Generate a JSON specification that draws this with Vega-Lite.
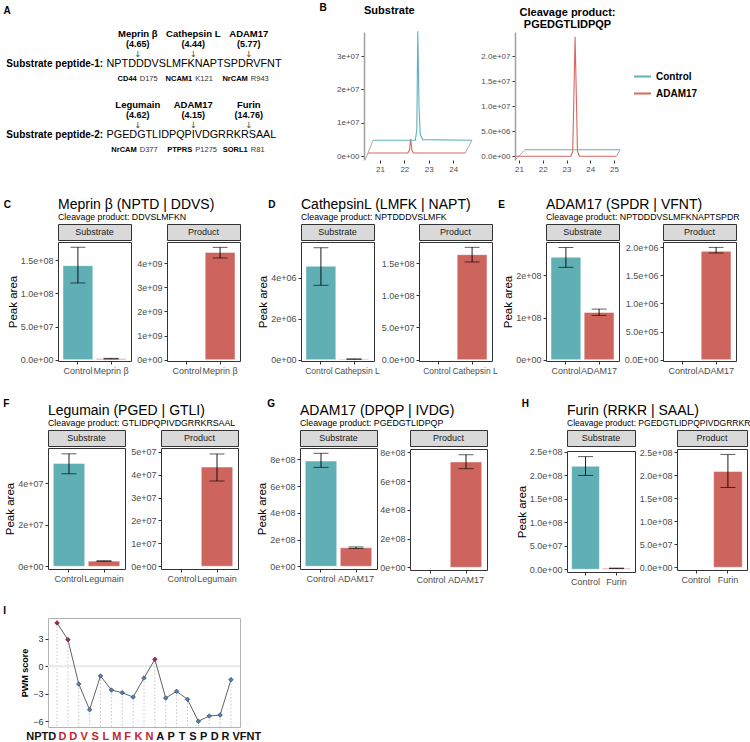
{
"$schema": "https://vega.github.io/schema/vega-lite/v6.json",
"background": "white",
"padding": {"left": 2, "top": 3, "right": 2, "bottom": 2},
"config": {
  "font": "Liberation Sans",
  "view": {"stroke": null},
  "axis": {"labelFont": "Liberation Sans", "labelFontSize": 9, "labelColor": "#4d4d4d", "tickColor": "#333333", "tickSize": 3, "labelPadding": 2, "domain": false, "grid": false, "titleFont": "Liberation Sans", "titleFontWeight": "normal", "titleColor": "black", "titleFontSize": 11.5, "titlePadding": 2, "labelOverlap": false},
  "title": {"font": "Liberation Sans", "color": "black", "subtitleFont": "Liberation Sans"},
  "text": {"font": "Liberation Sans"},
  "legend": {"labelFont": "Liberation Sans"}
},
"datasets": {
  "bars": [
    {"panel":"C","part":"Substrate","group":"Control","cond":"Control","value":1.418e8,"lo":1.157e8,"hi":1.696e8},
    {"panel":"C","part":"Substrate","group":"Meprin β","cond":"Enzyme","value":1.5e6,"lo":1.0e6,"hi":2.0e6},
    {"panel":"C","part":"Product","group":"Control","cond":"Control","value":null,"nd":"N.D."},
    {"panel":"C","part":"Product","group":"Meprin β","cond":"Enzyme","value":4.44e9,"lo":4.21e9,"hi":4.65e9},
    {"panel":"D","part":"Substrate","group":"Control","cond":"Control","value":4.56e6,"lo":3.63e6,"hi":5.46e6},
    {"panel":"D","part":"Substrate","group":"Cathepsin L","cond":"Enzyme","value":3e4,"lo":2e4,"hi":4e4},
    {"panel":"D","part":"Product","group":"Control","cond":"Control","value":null,"nd":"N.D."},
    {"panel":"D","part":"Product","group":"Cathepsin L","cond":"Enzyme","value":1.63e8,"lo":1.516e8,"hi":1.744e8},
    {"panel":"E","part":"Substrate","group":"Control","cond":"Control","value":2.43e8,"lo":2.19e8,"hi":2.66e8},
    {"panel":"E","part":"Substrate","group":"ADAM17","cond":"Enzyme","value":1.12e8,"lo":1.05e8,"hi":1.2e8},
    {"panel":"E","part":"Product","group":"Control","cond":"Control","value":null,"nd":"N.D."},
    {"panel":"E","part":"Product","group":"ADAM17","cond":"Enzyme","value":1.925e6,"lo":1.895e6,"hi":1.995e6},
    {"panel":"F","part":"Substrate","group":"Control","cond":"Control","value":4.95e7,"lo":4.45e7,"hi":5.41e7},
    {"panel":"F","part":"Substrate","group":"Legumain","cond":"Enzyme","value":2.5e6,"lo":2.3e6,"hi":2.7e6},
    {"panel":"F","part":"Product","group":"Control","cond":"Control","value":null,"nd":"N.D."},
    {"panel":"F","part":"Product","group":"Legumain","cond":"Enzyme","value":4.33e7,"lo":3.72e7,"hi":4.9e7},
    {"panel":"G","part":"Substrate","group":"Control","cond":"Control","value":7.87e8,"lo":7.4e8,"hi":8.45e8},
    {"panel":"G","part":"Substrate","group":"ADAM17","cond":"Enzyme","value":1.39e8,"lo":1.33e8,"hi":1.45e8},
    {"panel":"G","part":"Product","group":"Control","cond":"Control","value":null,"nd":"N.D."},
    {"panel":"G","part":"Product","group":"ADAM17","cond":"Enzyme","value":7.33e8,"lo":6.86e8,"hi":7.83e8},
    {"panel":"H","part":"Substrate","group":"Control","cond":"Control","value":2.195e8,"lo":2.0e8,"hi":2.4e8},
    {"panel":"H","part":"Substrate","group":"Furin","cond":"Enzyme","value":2e6,"lo":1.5e6,"hi":2.5e6},
    {"panel":"H","part":"Product","group":"Control","cond":"Control","value":null,"nd":"N.D."},
    {"panel":"H","part":"Product","group":"Furin","cond":"Enzyme","value":2.08e8,"lo":1.73e8,"hi":2.45e8}
  ],
  "pwm": [
    {"site":0,"score":4.72,"hit":true},{"site":1,"score":2.9,"hit":true},{"site":2,"score":-1.92,"hit":false},
    {"site":3,"score":-4.72,"hit":false},{"site":4,"score":-1.05,"hit":false},{"site":5,"score":-2.58,"hit":false},
    {"site":6,"score":-2.87,"hit":false},{"site":7,"score":-3.34,"hit":false},{"site":8,"score":-1.27,"hit":false},
    {"site":9,"score":0.76,"hit":true},{"site":10,"score":-3.45,"hit":false},{"site":11,"score":-2.72,"hit":false},
    {"site":12,"score":-3.59,"hit":false},{"site":13,"score":-5.98,"hit":false},{"site":14,"score":-5.4,"hit":false},
    {"site":15,"score":-5.3,"hit":false},{"site":16,"score":-1.45,"hit":false}
  ],
  "residues": [
    {"center":-1.45,"aa":"NPTD","red":false},{"center":0.5,"aa":"D","red":true},{"center":1.5,"aa":"D","red":true},
    {"center":2.5,"aa":"V","red":true},{"center":3.5,"aa":"S","red":true},{"center":4.5,"aa":"L","red":true},
    {"center":5.5,"aa":"M","red":true},{"center":6.5,"aa":"F","red":true},{"center":7.5,"aa":"K","red":true},
    {"center":8.5,"aa":"N","red":true},{"center":9.5,"aa":"A","red":false},{"center":10.5,"aa":"P","red":false},
    {"center":11.5,"aa":"T","red":false},{"center":12.5,"aa":"S","red":false},{"center":13.5,"aa":"P","red":false},
    {"center":14.5,"aa":"D","red":false},{"center":15.5,"aa":"R","red":false},{"center":17.45,"aa":"VFNT","red":false}
  ],
  "peptides": [
    {"pep":1,"name":"Substrate peptide-1:","seq":"NPTDDDVSLMFKNAPTSPDRVFNT"},
    {"pep":2,"name":"Substrate peptide-2:","seq":"PGEDGTLIDPQPIVDGRRKRSAAL"}
  ],
  "sites": [
    {"pep":1,"site":4,"enzyme":"Meprin β","score":"(4.65)","prot":"CD44","res":"D175"},
    {"pep":1,"site":12,"enzyme":"Cathepsin L","score":"(4.44)","prot":"NCAM1","res":"K121"},
    {"pep":1,"site":20,"enzyme":"ADAM17","score":"(5.77)","prot":"NrCAM","res":"R943"},
    {"pep":2,"site":4,"enzyme":"Legumain","score":"(4.62)","prot":"NrCAM","res":"D377"},
    {"pep":2,"site":12,"enzyme":"ADAM17","score":"(4.15)","prot":"PTPRS","res":"P1275"},
    {"pep":2,"site":20,"enzyme":"Furin","score":"(14.76)","prot":"SORL1","res":"R81"}
  ],
  "chromSub": [
    {"series":"ADAM17","time":20.52,"intensity":1.0e6},{"series":"ADAM17","time":22.14,"intensity":1.0e6},
    {"series":"ADAM17","time":22.21,"intensity":1.8e6},{"series":"ADAM17","time":22.26,"intensity":5.2e6},
    {"series":"ADAM17","time":22.31,"intensity":1.8e6},{"series":"ADAM17","time":22.38,"intensity":1.0e6},
    {"series":"ADAM17","time":24.49,"intensity":1.0e6},
    {"series":"Control","time":20.72,"intensity":4.8e6},{"series":"Control","time":22.45,"intensity":4.8e6},
    {"series":"Control","time":22.51,"intensity":8e6},{"series":"Control","time":22.55,"intensity":3.74e7},
    {"series":"Control","time":22.6,"intensity":1.5e7},{"series":"Control","time":22.65,"intensity":6.5e6},
    {"series":"Control","time":22.75,"intensity":5.0e6},{"series":"Control","time":24.77,"intensity":4.8e6}
  ],
  "frameSub": [
    {"seg":"L","time":20.4,"intensity":-1.0e6},{"seg":"L","time":20.72,"intensity":4.8e6},
    {"seg":"R","time":24.49,"intensity":1.0e6},{"seg":"R","time":24.77,"intensity":4.8e6}
  ],
  "chromProd": [
    {"series":"ADAM17","time":20.85,"intensity":0},{"series":"ADAM17","time":23.18,"intensity":0},
    {"series":"ADAM17","time":23.26,"intensity":1e6},{"series":"ADAM17","time":23.36,"intensity":2.39e7},
    {"series":"ADAM17","time":23.46,"intensity":1e6},{"series":"ADAM17","time":23.54,"intensity":0},
    {"series":"ADAM17","time":25.1,"intensity":0},
    {"series":"Control","time":21.25,"intensity":1.3e6},{"series":"Control","time":25.25,"intensity":1.3e6}
  ],
  "frameProd": [
    {"seg":"L","time":20.85,"intensity":-0.7e6},{"seg":"L","time":21.25,"intensity":1.3e6},
    {"seg":"R","time":25.1,"intensity":0},{"seg":"R","time":25.25,"intensity":1.3e6}
  ]
},
"spacing": 24,
"vconcat": [
{"spacing": 0, "hconcat": [
  {"width": 1, "height": 1, "data": {"values": [{"t": ""}]}, "mark": {"type": "text"}, "encoding": {"text": {"field": "t"}}},
  {"spacing": 28, "hconcat": [
    {"title": {"text": "A", "anchor": "start", "frame": "bounds", "fontSize": 10, "fontWeight": "bold", "dx": -3, "offset": 13},
     "width": 190, "height": 128,
     "encoding": {"y": {"field": "pep", "type": "quantitative", "scale": {"domain": [0.549, 2.352], "reverse": true, "nice": false, "zero": false}, "axis": null}},
     "layer": [
       {"data": {"name": "peptides"}, "mark": {"type": "text", "align": "right", "fontWeight": "bold", "fontSize": 10, "baseline": "middle"},
        "encoding": {"x": {"datum": -1.0, "type": "quantitative", "scale": {"domain": [-1.297, 26.08], "nice": false, "zero": false}, "axis": null}, "text": {"field": "name"}}},
       {"data": {"name": "peptides"}, "mark": {"type": "text", "align": "left", "fontSize": 10.8, "baseline": "middle"},
        "encoding": {"x": {"datum": -0.5, "type": "quantitative"}, "text": {"field": "seq"}}},
       {"data": {"name": "sites"}, "mark": {"type": "text", "fontWeight": "bold", "fontSize": 9.5, "dy": -30},
        "encoding": {"x": {"field": "site", "type": "quantitative"}, "text": {"field": "enzyme"}}},
       {"data": {"name": "sites"}, "mark": {"type": "text", "fontWeight": "bold", "fontSize": 9, "dy": -20},
        "encoding": {"x": {"field": "site", "type": "quantitative"}, "text": {"field": "score"}}},
       {"data": {"name": "sites"}, "mark": {"type": "text", "font": "DejaVu Sans", "fontSize": 8.5, "dy": -10.5, "color": "#444444"},
        "encoding": {"x": {"field": "site", "type": "quantitative"}, "text": {"value": "↓"}}},
       {"data": {"name": "sites"}, "mark": {"type": "text", "fontWeight": "bold", "fontSize": 7.5, "dy": 15, "align": "right", "dx": -1},
        "encoding": {"x": {"field": "site", "type": "quantitative"}, "text": {"field": "prot"}}},
       {"data": {"name": "sites"}, "mark": {"type": "text", "fontSize": 7.5, "dy": 15, "align": "left", "dx": 2, "color": "#333333"},
        "encoding": {"x": {"field": "site", "type": "quantitative"}, "text": {"field": "res"}}}
     ]},
    {"title": {"text": "B", "anchor": "start", "frame": "bounds", "fontSize": 10, "fontWeight": "bold", "dx": -17, "offset": -8},
     "bounds": "flush", "spacing": 41,
     "hconcat": [
       {"title": {"text": "Substrate", "anchor": "start", "frame": "group", "fontSize": 11, "fontWeight": "bold", "offset": 13},
        "width": 110, "height": 128,
        "encoding": {
          "x": {"field": "time", "type": "quantitative", "scale": {"domain": [20.35, 24.85], "nice": false, "zero": false}, "axis": {"values": [21, 22, 23, 24], "title": null, "labelFontSize": 8}},
          "y": {"field": "intensity", "type": "quantitative", "scale": {"domain": [-1.1e6, 3.72e7], "nice": false, "zero": false}, "axis": {"values": [0, 1e7, 2e7, 3e7], "labelExpr": "replace(format(datum.value, '.0e'), 'e+', 'e+0')", "title": null, "domain": true, "domainColor": "#a0a0a0", "domainWidth": 1.5, "labelFontSize": 8}}
        },
        "layer": [
          {"data": {"name": "frameSub"}, "mark": {"type": "line", "color": "#888888", "strokeWidth": 0.7}, "encoding": {"detail": {"field": "seg"}}},
          {"data": {"name": "chromSub"}, "mark": {"type": "line", "strokeWidth": 1.1},
           "encoding": {"color": {"field": "series", "type": "nominal", "scale": {"domain": ["Control", "ADAM17"], "range": ["#5fb3b8", "#d9675f"]},
             "legend": {"title": null, "orient": "none", "legendX": 631, "legendY": 35, "labelFontSize": 10, "labelFontWeight": "bold", "labelColor": "black", "symbolType": "stroke", "symbolStrokeWidth": 2, "symbolSize": 289, "rowPadding": 2}}}}
        ]},
       {"title": {"text": ["Cleavage product:", "PGEDGTLIDPQP"], "anchor": "middle", "fontSize": 11, "fontWeight": "bold", "offset": 2, "lineHeight": 12},
        "width": 105, "height": 128,
        "encoding": {
          "x": {"field": "time", "type": "quantitative", "scale": {"domain": [20.83, 25.25], "nice": false, "zero": false}, "axis": {"values": [21, 22, 23, 24, 25], "title": null, "labelFontSize": 8}},
          "y": {"field": "intensity", "type": "quantitative", "scale": {"domain": [-0.74e6, 24.86e6], "nice": false, "zero": false}, "axis": {"values": [0, 5e6, 1e7, 1.5e7, 2e7], "labelExpr": "replace(format(datum.value, '.1e'), 'e+', 'e+0')", "title": null, "domain": true, "domainColor": "#a0a0a0", "domainWidth": 1.5, "labelFontSize": 8}}
        },
        "layer": [
          {"data": {"name": "frameProd"}, "mark": {"type": "line", "color": "#888888", "strokeWidth": 0.7}, "encoding": {"detail": {"field": "seg"}}},
          {"data": {"name": "chromProd"}, "mark": {"type": "line", "strokeWidth": 1.1},
           "encoding": {"color": {"field": "series", "type": "nominal", "scale": {"domain": ["Control", "ADAM17"], "range": ["#5fb3b8", "#d9675f"]}}}}
        ]}
     ]}
  ]}
]},
{"spacing": 22, "vconcat": [
{"spacing": 0, "hconcat": [
  {"width": 1, "height": 1, "data": {"values": [{"t": ""}]}, "mark": {"type": "text"}, "encoding": {"text": {"field": "t"}}},
  {"spacing": 16, "hconcat": [
    {"title": {"text": "C", "anchor": "start", "frame": "bounds", "fontSize": 10, "fontWeight": "bold", "dx": -3, "offset": -12},
     "hconcat": [
      {"title": {"text": "Meprin β (NPTD | DDVS)", "subtitle": "Cleavage product: DDVSLMFKN", "anchor": "start", "frame": "group", "fontSize": 14, "fontWeight": "normal", "subtitleFontSize": 8.8, "subtitleColor": "black", "subtitlePadding": 1, "offset": 2},
       "spacing": 4,
       "hconcat": [
        {"spacing": 0, "vconcat": [
          {"width": 73, "height": 16, "data": {"values": [{"strip": "Substrate"}]}, "mark": {"type": "text", "fontSize": 9, "color": "#1a1a1a"}, "encoding": {"text": {"field": "strip"}}, "view": {"fill": "#d9d9d9", "stroke": "#333333", "strokeWidth": 1}},
          {"width": 73, "height": 119, "data": {"name": "bars"}, "transform": [{"filter": "datum.panel == 'C' && datum.part == 'Substrate'"}], "view": {"stroke": "#333333", "strokeWidth": 1},
           "encoding": {
             "x": {"field": "group", "type": "nominal", "scale": {"domain": ["Control", "Meprin β"], "paddingInner": 0.1, "paddingOuter": 0.15}, "axis": {"title": null, "labelAngle": 0}},
             "y": {"field": "value", "type": "quantitative", "title": "Peak area", "scale": {"domain": [-2e6, 1.775e8], "nice": false, "zero": false}, "axis": {"values": [0, 5e7, 1e8, 1.5e8], "labelExpr": "replace(format(datum.value, '.1e'), 'e+', 'e+0')"}}},
           "layer": [
             {"mark": {"type": "bar", "stroke": "#ffffff", "strokeOpacity": 0.5, "strokeWidth": 1}, "encoding": {"color": {"condition": {"test": "datum.cond == 'Control'", "value": "#5fafb4"}, "value": "#cd655e"}}},
             {"mark": {"type": "rule", "color": "black", "strokeWidth": 0.9}, "encoding": {"y": {"field": "lo", "type": "quantitative", "title": "Peak area"}, "y2": {"field": "hi"}}},
             {"mark": {"type": "tick", "color": "black", "size": 15, "thickness": 0.9}, "encoding": {"y": {"field": "lo", "type": "quantitative", "title": "Peak area"}}},
             {"mark": {"type": "tick", "color": "black", "size": 15, "thickness": 0.9}, "encoding": {"y": {"field": "hi", "type": "quantitative", "title": "Peak area"}}}
           ]}
        ]},
        {"spacing": 0, "vconcat": [
          {"width": 73, "height": 16, "data": {"values": [{"strip": "Product"}]}, "mark": {"type": "text", "fontSize": 9, "color": "#1a1a1a"}, "encoding": {"text": {"field": "strip"}}, "view": {"fill": "#d9d9d9", "stroke": "#333333", "strokeWidth": 1}},
          {"width": 73, "height": 119, "data": {"name": "bars"}, "transform": [{"filter": "datum.panel == 'C' && datum.part == 'Product'"}], "view": {"stroke": "#333333", "strokeWidth": 1},
           "encoding": {
             "x": {"field": "group", "type": "nominal", "scale": {"domain": ["Control", "Meprin β"], "paddingInner": 0.1, "paddingOuter": 0.15}, "axis": {"title": null, "labelAngle": 0}},
             "y": {"field": "value", "type": "quantitative", "title": null, "scale": {"domain": [-5.4e7, 4.87e9], "nice": false, "zero": false}, "axis": {"values": [0, 1e9, 2e9, 3e9, 4e9], "labelExpr": "replace(format(datum.value, '.0e'), 'e+', 'e+0')"}}},
           "layer": [
             {"mark": {"type": "bar", "stroke": "#ffffff", "strokeOpacity": 0.5, "strokeWidth": 1}, "encoding": {"color": {"condition": {"test": "datum.cond == 'Control'", "value": "#5fafb4"}, "value": "#cd655e"}}},
             {"mark": {"type": "rule", "color": "black", "strokeWidth": 0.9}, "encoding": {"y": {"field": "lo", "type": "quantitative", "title": null}, "y2": {"field": "hi"}}},
             {"mark": {"type": "tick", "color": "black", "size": 15, "thickness": 0.9}, "encoding": {"y": {"field": "lo", "type": "quantitative", "title": null}}},
             {"mark": {"type": "tick", "color": "black", "size": 15, "thickness": 0.9}, "encoding": {"y": {"field": "hi", "type": "quantitative", "title": null}}},
             {"transform": [{"filter": "datum.nd"}], "mark": {"type": "text", "fontSize": 12.5, "baseline": "bottom", "color": "black"}, "encoding": {"y": {"datum": 0}, "text": {"field": "nd"}}}
           ]}
        ]}
       ]}
     ]},
    {"spacing": 0, "hconcat": [
      {"title": {"text": "D", "anchor": "start", "frame": "bounds", "fontSize": 10, "fontWeight": "bold", "dx": 11, "offset": -12},
       "hconcat": [
        {"title": {"text": "CathepsinL (LMFK | NAPT)", "subtitle": "Cleavage product: NPTDDDVSLMFK", "anchor": "start", "frame": "group", "fontSize": 14, "fontWeight": "normal", "subtitleFontSize": 8.8, "subtitleColor": "black", "subtitlePadding": 1, "offset": 2},
         "spacing": 0,
         "hconcat": [
          {"spacing": 0, "vconcat": [
            {"width": 73, "height": 16, "data": {"values": [{"strip": "Substrate"}]}, "mark": {"type": "text", "fontSize": 9, "color": "#1a1a1a"}, "encoding": {"text": {"field": "strip"}}, "view": {"fill": "#d9d9d9", "stroke": "#333333", "strokeWidth": 1}},
            {"width": 73, "height": 119, "data": {"name": "bars"}, "transform": [{"filter": "datum.panel == 'D' && datum.part == 'Substrate'"}], "view": {"stroke": "#333333", "strokeWidth": 1},
             "encoding": {
               "x": {"field": "group", "type": "nominal", "scale": {"domain": ["Control", "Cathepsin L"], "paddingInner": 0.1, "paddingOuter": 0.15}, "axis": {"title": null, "labelAngle": 0, "labelFontSize": 8.5, "labelOffset": {"condition": {"test": "datum.value == 'Cathepsin L'", "value": 3}, "value": -2}}},
               "y": {"field": "value", "type": "quantitative", "title": "Peak area", "scale": {"domain": [-6.3e4, 5.74e6], "nice": false, "zero": false}, "axis": {"values": [0, 2e6, 4e6], "labelExpr": "replace(format(datum.value, '.0e'), 'e+', 'e+0')"}}},
             "layer": [
               {"mark": {"type": "bar", "stroke": "#ffffff", "strokeOpacity": 0.5, "strokeWidth": 1}, "encoding": {"color": {"condition": {"test": "datum.cond == 'Control'", "value": "#5fafb4"}, "value": "#cd655e"}}},
               {"mark": {"type": "rule", "color": "black", "strokeWidth": 0.9}, "encoding": {"y": {"field": "lo", "type": "quantitative", "title": "Peak area"}, "y2": {"field": "hi"}}},
               {"mark": {"type": "tick", "color": "black", "size": 15, "thickness": 0.9}, "encoding": {"y": {"field": "lo", "type": "quantitative", "title": "Peak area"}}},
               {"mark": {"type": "tick", "color": "black", "size": 15, "thickness": 0.9}, "encoding": {"y": {"field": "hi", "type": "quantitative", "title": "Peak area"}}}
             ]}
          ]},
          {"spacing": 0, "vconcat": [
            {"width": 73, "height": 16, "data": {"values": [{"strip": "Product"}]}, "mark": {"type": "text", "fontSize": 9, "color": "#1a1a1a"}, "encoding": {"text": {"field": "strip"}}, "view": {"fill": "#d9d9d9", "stroke": "#333333", "strokeWidth": 1}},
            {"width": 73, "height": 119, "data": {"name": "bars"}, "transform": [{"filter": "datum.panel == 'D' && datum.part == 'Product'"}], "view": {"stroke": "#333333", "strokeWidth": 1},
             "encoding": {
               "x": {"field": "group", "type": "nominal", "scale": {"domain": ["Control", "Cathepsin L"], "paddingInner": 0.1, "paddingOuter": 0.15}, "axis": {"title": null, "labelAngle": 0, "labelFontSize": 8.5, "labelOffset": {"condition": {"test": "datum.value == 'Cathepsin L'", "value": 3}, "value": -2}}},
               "y": {"field": "value", "type": "quantitative", "title": null, "scale": {"domain": [-2e6, 1.826e8], "nice": false, "zero": false}, "axis": {"values": [0, 5e7, 1e8, 1.5e8], "labelExpr": "replace(format(datum.value, '.1e'), 'e+', 'e+0')"}}},
             "layer": [
               {"mark": {"type": "bar", "stroke": "#ffffff", "strokeOpacity": 0.5, "strokeWidth": 1}, "encoding": {"color": {"condition": {"test": "datum.cond == 'Control'", "value": "#5fafb4"}, "value": "#cd655e"}}},
               {"mark": {"type": "rule", "color": "black", "strokeWidth": 0.9}, "encoding": {"y": {"field": "lo", "type": "quantitative", "title": null}, "y2": {"field": "hi"}}},
               {"mark": {"type": "tick", "color": "black", "size": 15, "thickness": 0.9}, "encoding": {"y": {"field": "lo", "type": "quantitative", "title": null}}},
               {"mark": {"type": "tick", "color": "black", "size": 15, "thickness": 0.9}, "encoding": {"y": {"field": "hi", "type": "quantitative", "title": null}}},
               {"transform": [{"filter": "datum.nd"}], "mark": {"type": "text", "fontSize": 12.5, "baseline": "bottom", "color": "black"}, "encoding": {"y": {"datum": 0}, "text": {"field": "nd"}}}
             ]}
          ]}
         ]}
       ]},
      {"title": {"text": "E", "anchor": "start", "frame": "bounds", "fontSize": 10, "fontWeight": "bold", "dx": -4, "offset": -12},
       "hconcat": [
        {"title": {"text": "ADAM17 (SPDR | VFNT)", "subtitle": "Cleavage product: NPTDDDVSLMFKNAPTSPDR", "anchor": "start", "frame": "group", "fontSize": 14, "fontWeight": "normal", "subtitleFontSize": 8.8, "subtitleColor": "black", "subtitlePadding": 1, "offset": 2},
         "spacing": 3,
         "hconcat": [
          {"spacing": 0, "vconcat": [
            {"width": 73, "height": 16, "data": {"values": [{"strip": "Substrate"}]}, "mark": {"type": "text", "fontSize": 9, "color": "#1a1a1a"}, "encoding": {"text": {"field": "strip"}}, "view": {"fill": "#d9d9d9", "stroke": "#333333", "strokeWidth": 1}},
            {"width": 73, "height": 119, "data": {"name": "bars"}, "transform": [{"filter": "datum.panel == 'E' && datum.part == 'Substrate'"}], "view": {"stroke": "#333333", "strokeWidth": 1},
             "encoding": {
               "x": {"field": "group", "type": "nominal", "scale": {"domain": ["Control", "ADAM17"], "paddingInner": 0.1, "paddingOuter": 0.15}, "axis": {"title": null, "labelAngle": 0}},
               "y": {"field": "value", "type": "quantitative", "title": "Peak area", "scale": {"domain": [-3.1e6, 2.79e8], "nice": false, "zero": false}, "axis": {"values": [0, 1e8, 2e8], "labelExpr": "replace(format(datum.value, '.0e'), 'e+', 'e+0')"}}},
             "layer": [
               {"mark": {"type": "bar", "stroke": "#ffffff", "strokeOpacity": 0.5, "strokeWidth": 1}, "encoding": {"color": {"condition": {"test": "datum.cond == 'Control'", "value": "#5fafb4"}, "value": "#cd655e"}}},
               {"mark": {"type": "rule", "color": "black", "strokeWidth": 0.9}, "encoding": {"y": {"field": "lo", "type": "quantitative", "title": "Peak area"}, "y2": {"field": "hi"}}},
               {"mark": {"type": "tick", "color": "black", "size": 15, "thickness": 0.9}, "encoding": {"y": {"field": "lo", "type": "quantitative", "title": "Peak area"}}},
               {"mark": {"type": "tick", "color": "black", "size": 15, "thickness": 0.9}, "encoding": {"y": {"field": "hi", "type": "quantitative", "title": "Peak area"}}}
             ]}
          ]},
          {"spacing": 0, "vconcat": [
            {"width": 73, "height": 16, "data": {"values": [{"strip": "Product"}]}, "mark": {"type": "text", "fontSize": 9, "color": "#1a1a1a"}, "encoding": {"text": {"field": "strip"}}, "view": {"fill": "#d9d9d9", "stroke": "#333333", "strokeWidth": 1}},
            {"width": 73, "height": 119, "data": {"name": "bars"}, "transform": [{"filter": "datum.panel == 'E' && datum.part == 'Product'"}], "view": {"stroke": "#333333", "strokeWidth": 1},
             "encoding": {
               "x": {"field": "group", "type": "nominal", "scale": {"domain": ["Control", "ADAM17"], "paddingInner": 0.1, "paddingOuter": 0.15}, "axis": {"title": null, "labelAngle": 0}},
               "y": {"field": "value", "type": "quantitative", "title": null, "scale": {"domain": [-2.3e4, 2.09e6], "nice": false, "zero": false}, "axis": {"values": [0, 5e5, 1e6, 1.5e6, 2e6], "labelExpr": "datum.value == 0 ? '0.0E+00' : replace(format(datum.value, '.1e'), 'e+', 'e+0')"}}},
             "layer": [
               {"mark": {"type": "bar", "stroke": "#ffffff", "strokeOpacity": 0.5, "strokeWidth": 1}, "encoding": {"color": {"condition": {"test": "datum.cond == 'Control'", "value": "#5fafb4"}, "value": "#cd655e"}}},
               {"mark": {"type": "rule", "color": "black", "strokeWidth": 0.9}, "encoding": {"y": {"field": "lo", "type": "quantitative", "title": null}, "y2": {"field": "hi"}}},
               {"mark": {"type": "tick", "color": "black", "size": 15, "thickness": 0.9}, "encoding": {"y": {"field": "lo", "type": "quantitative", "title": null}}},
               {"mark": {"type": "tick", "color": "black", "size": 15, "thickness": 0.9}, "encoding": {"y": {"field": "hi", "type": "quantitative", "title": null}}},
               {"transform": [{"filter": "datum.nd"}], "mark": {"type": "text", "fontSize": 12.5, "baseline": "bottom", "color": "black"}, "encoding": {"y": {"datum": 0}, "text": {"field": "nd"}}}
             ]}
          ]}
         ]}
       ]}
    ]}
  ]}
]},
{"spacing": 18, "vconcat": [
{"spacing": 0, "hconcat": [
  {"width": 1, "height": 1, "data": {"values": [{"t": ""}]}, "mark": {"type": "text"}, "encoding": {"text": {"field": "t"}}},
  {"spacing": 17, "hconcat": [
    {"title": {"text": "F", "anchor": "start", "frame": "bounds", "fontSize": 10, "fontWeight": "bold", "dx": -1, "offset": -5},
     "hconcat": [
      {"title": {"text": "Legumain (PGED | GTLI)", "subtitle": "Cleavage product: GTLIDPQPIVDGRRKRSAAL", "anchor": "start", "frame": "group", "fontSize": 14, "fontWeight": "normal", "subtitleFontSize": 8.8, "subtitleColor": "black", "subtitlePadding": 1, "offset": 2},
       "spacing": 4,
       "hconcat": [
        {"spacing": 0, "vconcat": [
          {"width": 77, "height": 16, "data": {"values": [{"strip": "Substrate"}]}, "mark": {"type": "text", "fontSize": 9, "color": "#1a1a1a"}, "encoding": {"text": {"field": "strip"}}, "view": {"fill": "#d9d9d9", "stroke": "#333333", "strokeWidth": 1}},
          {"width": 77, "height": 121, "data": {"name": "bars"}, "transform": [{"filter": "datum.panel == 'F' && datum.part == 'Substrate'"}], "view": {"stroke": "#333333", "strokeWidth": 1},
           "encoding": {
             "x": {"field": "group", "type": "nominal", "scale": {"domain": ["Control", "Legumain"], "paddingInner": 0.1, "paddingOuter": 0.15}, "axis": {"title": null, "labelAngle": 0}},
             "y": {"field": "value", "type": "quantitative", "title": "Peak area", "scale": {"domain": [-1.3e6, 5.69e7], "nice": false, "zero": false}, "axis": {"values": [0, 2e7, 4e7], "labelExpr": "replace(format(datum.value, '.0e'), 'e+', 'e+0')"}}},
           "layer": [
             {"mark": {"type": "bar", "stroke": "#ffffff", "strokeOpacity": 0.5, "strokeWidth": 1}, "encoding": {"color": {"condition": {"test": "datum.cond == 'Control'", "value": "#5fafb4"}, "value": "#cd655e"}}},
             {"mark": {"type": "rule", "color": "black", "strokeWidth": 0.9}, "encoding": {"y": {"field": "lo", "type": "quantitative", "title": "Peak area"}, "y2": {"field": "hi"}}},
             {"mark": {"type": "tick", "color": "black", "size": 15, "thickness": 0.9}, "encoding": {"y": {"field": "lo", "type": "quantitative", "title": "Peak area"}}},
             {"mark": {"type": "tick", "color": "black", "size": 15, "thickness": 0.9}, "encoding": {"y": {"field": "hi", "type": "quantitative", "title": "Peak area"}}}
           ]}
        ]},
        {"spacing": 0, "vconcat": [
          {"width": 77, "height": 16, "data": {"values": [{"strip": "Product"}]}, "mark": {"type": "text", "fontSize": 9, "color": "#1a1a1a"}, "encoding": {"text": {"field": "strip"}}, "view": {"fill": "#d9d9d9", "stroke": "#333333", "strokeWidth": 1}},
          {"width": 77, "height": 121, "data": {"name": "bars"}, "transform": [{"filter": "datum.panel == 'F' && datum.part == 'Product'"}], "view": {"stroke": "#333333", "strokeWidth": 1},
           "encoding": {
             "x": {"field": "group", "type": "nominal", "scale": {"domain": ["Control", "Legumain"], "paddingInner": 0.1, "paddingOuter": 0.15}, "axis": {"title": null, "labelAngle": 0}},
             "y": {"field": "value", "type": "quantitative", "title": null, "scale": {"domain": [-1.18e6, 5.16e7], "nice": false, "zero": false}, "axis": {"values": [0, 1e7, 2e7, 3e7, 4e7, 5e7], "labelExpr": "replace(format(datum.value, '.0e'), 'e+', 'e+0')"}}},
           "layer": [
             {"mark": {"type": "bar", "stroke": "#ffffff", "strokeOpacity": 0.5, "strokeWidth": 1}, "encoding": {"color": {"condition": {"test": "datum.cond == 'Control'", "value": "#5fafb4"}, "value": "#cd655e"}}},
             {"mark": {"type": "rule", "color": "black", "strokeWidth": 0.9}, "encoding": {"y": {"field": "lo", "type": "quantitative", "title": null}, "y2": {"field": "hi"}}},
             {"mark": {"type": "tick", "color": "black", "size": 15, "thickness": 0.9}, "encoding": {"y": {"field": "lo", "type": "quantitative", "title": null}}},
             {"mark": {"type": "tick", "color": "black", "size": 15, "thickness": 0.9}, "encoding": {"y": {"field": "hi", "type": "quantitative", "title": null}}},
             {"transform": [{"filter": "datum.nd"}], "mark": {"type": "text", "fontSize": 12.5, "baseline": "bottom", "color": "black"}, "encoding": {"y": {"datum": 0}, "text": {"field": "nd"}}}
           ]}
        ]}
       ]}
     ]},
    {"spacing": 27, "hconcat": [
      {"title": {"text": "G", "anchor": "start", "frame": "bounds", "fontSize": 10, "fontWeight": "bold", "dx": 11, "offset": -5},
       "hconcat": [
        {"title": {"text": "ADAM17 (DPQP | IVDG)", "subtitle": "Cleavage product: PGEDGTLIDPQP", "anchor": "start", "frame": "group", "fontSize": 14, "fontWeight": "normal", "subtitleFontSize": 8.8, "subtitleColor": "black", "subtitlePadding": 1, "offset": 2},
         "spacing": 1,
         "hconcat": [
          {"spacing": 0, "vconcat": [
            {"width": 77, "height": 16, "data": {"values": [{"strip": "Substrate"}]}, "mark": {"type": "text", "fontSize": 9, "color": "#1a1a1a"}, "encoding": {"text": {"field": "strip"}}, "view": {"fill": "#d9d9d9", "stroke": "#333333", "strokeWidth": 1}},
            {"width": 77, "height": 121, "data": {"name": "bars"}, "transform": [{"filter": "datum.panel == 'G' && datum.part == 'Substrate'"}], "view": {"stroke": "#333333", "strokeWidth": 1},
             "encoding": {
               "x": {"field": "group", "type": "nominal", "scale": {"domain": ["Control", "ADAM17"], "paddingInner": 0.1, "paddingOuter": 0.15}, "axis": {"title": null, "labelAngle": 0}},
               "y": {"field": "value", "type": "quantitative", "title": "Peak area", "scale": {"domain": [-2.0e7, 8.845e8], "nice": false, "zero": false}, "axis": {"values": [0, 2e8, 4e8, 6e8, 8e8], "labelExpr": "replace(format(datum.value, '.0e'), 'e+', 'e+0')"}}},
             "layer": [
               {"mark": {"type": "bar", "stroke": "#ffffff", "strokeOpacity": 0.5, "strokeWidth": 1}, "encoding": {"color": {"condition": {"test": "datum.cond == 'Control'", "value": "#5fafb4"}, "value": "#cd655e"}}},
               {"mark": {"type": "rule", "color": "black", "strokeWidth": 0.9}, "encoding": {"y": {"field": "lo", "type": "quantitative", "title": "Peak area"}, "y2": {"field": "hi"}}},
               {"mark": {"type": "tick", "color": "black", "size": 15, "thickness": 0.9}, "encoding": {"y": {"field": "lo", "type": "quantitative", "title": "Peak area"}}},
               {"mark": {"type": "tick", "color": "black", "size": 15, "thickness": 0.9}, "encoding": {"y": {"field": "hi", "type": "quantitative", "title": "Peak area"}}}
             ]}
          ]},
          {"spacing": 0, "vconcat": [
            {"width": 77, "height": 16, "data": {"values": [{"strip": "Product"}]}, "mark": {"type": "text", "fontSize": 9, "color": "#1a1a1a"}, "encoding": {"text": {"field": "strip"}}, "view": {"fill": "#d9d9d9", "stroke": "#333333", "strokeWidth": 1}},
            {"width": 77, "height": 121, "data": {"name": "bars"}, "transform": [{"filter": "datum.panel == 'G' && datum.part == 'Product'"}], "view": {"stroke": "#333333", "strokeWidth": 1},
             "encoding": {
               "x": {"field": "group", "type": "nominal", "scale": {"domain": ["Control", "ADAM17"], "paddingInner": 0.1, "paddingOuter": 0.15}, "axis": {"title": null, "labelAngle": 0}},
               "y": {"field": "value", "type": "quantitative", "title": null, "scale": {"domain": [-1.88e7, 8.23e8], "nice": false, "zero": false}, "axis": {"values": [0, 2e8, 4e8, 6e8, 8e8], "labelExpr": "replace(format(datum.value, '.0e'), 'e+', 'e+0')"}}},
             "layer": [
               {"mark": {"type": "bar", "stroke": "#ffffff", "strokeOpacity": 0.5, "strokeWidth": 1}, "encoding": {"color": {"condition": {"test": "datum.cond == 'Control'", "value": "#5fafb4"}, "value": "#cd655e"}}},
               {"mark": {"type": "rule", "color": "black", "strokeWidth": 0.9}, "encoding": {"y": {"field": "lo", "type": "quantitative", "title": null}, "y2": {"field": "hi"}}},
               {"mark": {"type": "tick", "color": "black", "size": 15, "thickness": 0.9}, "encoding": {"y": {"field": "lo", "type": "quantitative", "title": null}}},
               {"mark": {"type": "tick", "color": "black", "size": 15, "thickness": 0.9}, "encoding": {"y": {"field": "hi", "type": "quantitative", "title": null}}},
               {"transform": [{"filter": "datum.nd"}], "mark": {"type": "text", "fontSize": 12.5, "baseline": "bottom", "color": "black"}, "encoding": {"y": {"datum": 0}, "text": {"field": "nd"}}}
             ]}
          ]}
         ]}
       ]},
      {"title": {"text": "H", "anchor": "start", "frame": "bounds", "fontSize": 10, "fontWeight": "bold", "dx": 6, "offset": -5},
       "hconcat": [
        {"title": {"text": "Furin (RRKR | SAAL)", "subtitle": "Cleavage product: PGEDGTLIDPQPIVDGRRKR", "anchor": "start", "frame": "group", "fontSize": 14, "fontWeight": "normal", "subtitleFontSize": 8.5, "subtitleColor": "black", "subtitlePadding": 1, "offset": 2},
         "spacing": 2,
         "hconcat": [
          {"spacing": 0, "vconcat": [
            {"width": 68, "height": 16, "data": {"values": [{"strip": "Substrate"}]}, "mark": {"type": "text", "fontSize": 9, "color": "#1a1a1a"}, "encoding": {"text": {"field": "strip"}}, "view": {"fill": "#d9d9d9", "stroke": "#333333", "strokeWidth": 1}},
            {"width": 68, "height": 121, "data": {"name": "bars"}, "transform": [{"filter": "datum.panel == 'H' && datum.part == 'Substrate'"}], "view": {"stroke": "#333333", "strokeWidth": 1},
             "encoding": {
               "x": {"field": "group", "type": "nominal", "scale": {"domain": ["Control", "Furin"], "paddingInner": 0.1, "paddingOuter": 0.15}, "axis": {"title": null, "labelAngle": 0}},
               "y": {"field": "value", "type": "quantitative", "title": "Peak area", "scale": {"domain": [-5.8e6, 2.52e8], "nice": false, "zero": false}, "axis": {"values": [0, 5e7, 1e8, 1.5e8, 2e8, 2.5e8], "labelExpr": "replace(format(datum.value, '.1e'), 'e+', 'e+0')"}}},
             "layer": [
               {"mark": {"type": "bar", "stroke": "#ffffff", "strokeOpacity": 0.5, "strokeWidth": 1}, "encoding": {"color": {"condition": {"test": "datum.cond == 'Control'", "value": "#5fafb4"}, "value": "#cd655e"}}},
               {"mark": {"type": "rule", "color": "black", "strokeWidth": 0.9}, "encoding": {"y": {"field": "lo", "type": "quantitative", "title": "Peak area"}, "y2": {"field": "hi"}}},
               {"mark": {"type": "tick", "color": "black", "size": 15, "thickness": 0.9}, "encoding": {"y": {"field": "lo", "type": "quantitative", "title": "Peak area"}}},
               {"mark": {"type": "tick", "color": "black", "size": 15, "thickness": 0.9}, "encoding": {"y": {"field": "hi", "type": "quantitative", "title": "Peak area"}}}
             ]}
          ]},
          {"spacing": 0, "vconcat": [
            {"width": 70, "height": 16, "data": {"values": [{"strip": "Product"}]}, "mark": {"type": "text", "fontSize": 9, "color": "#1a1a1a"}, "encoding": {"text": {"field": "strip"}}, "view": {"fill": "#d9d9d9", "stroke": "#333333", "strokeWidth": 1}},
            {"width": 70, "height": 121, "data": {"name": "bars"}, "transform": [{"filter": "datum.panel == 'H' && datum.part == 'Product'"}], "view": {"stroke": "#333333", "strokeWidth": 1},
             "encoding": {
               "x": {"field": "group", "type": "nominal", "scale": {"domain": ["Control", "Furin"], "paddingInner": 0.1, "paddingOuter": 0.15}, "axis": {"title": null, "labelAngle": 0}},
               "y": {"field": "value", "type": "quantitative", "title": null, "scale": {"domain": [-5.9e6, 2.566e8], "nice": false, "zero": false}, "axis": {"values": [0, 5e7, 1e8, 1.5e8, 2e8, 2.5e8], "labelExpr": "replace(format(datum.value, '.1e'), 'e+', 'e+0')"}}},
             "layer": [
               {"mark": {"type": "bar", "stroke": "#ffffff", "strokeOpacity": 0.5, "strokeWidth": 1}, "encoding": {"color": {"condition": {"test": "datum.cond == 'Control'", "value": "#5fafb4"}, "value": "#cd655e"}}},
               {"mark": {"type": "rule", "color": "black", "strokeWidth": 0.9}, "encoding": {"y": {"field": "lo", "type": "quantitative", "title": null}, "y2": {"field": "hi"}}},
               {"mark": {"type": "tick", "color": "black", "size": 15, "thickness": 0.9}, "encoding": {"y": {"field": "lo", "type": "quantitative", "title": null}}},
               {"mark": {"type": "tick", "color": "black", "size": 15, "thickness": 0.9}, "encoding": {"y": {"field": "hi", "type": "quantitative", "title": null}}},
               {"transform": [{"filter": "datum.nd"}], "mark": {"type": "text", "fontSize": 12.5, "baseline": "bottom", "color": "black"}, "encoding": {"y": {"datum": 0}, "text": {"field": "nd"}}}
             ]}
          ]}
         ]}
       ]}
    ]}
  ]}
]},
{"spacing": 0, "hconcat": [
  {"width": 1, "height": 1, "data": {"values": [{"t": ""}]}, "mark": {"type": "text"}, "encoding": {"text": {"field": "t"}}},
  {"title": {"text": "I", "anchor": "start", "frame": "bounds", "fontSize": 10, "fontWeight": "bold", "dx": -17, "offset": 2},
   "spacing": 0,
   "vconcat": [
    {"width": 192, "height": 109,
     "view": {"stroke": "#b3b3b3", "strokeWidth": 1},
     "encoding": {
       "y": {"field": "score", "type": "quantitative", "title": "PWM score", "scale": {"domain": [-6.6, 5.26], "nice": false, "zero": false},
             "axis": {"values": [3, 0, -3, -6], "titleFontWeight": "bold", "titleFontSize": 9, "labelColor": "#333333", "labelFontSize": 9, "titlePadding": 3, "labelOverlap": false, "labelBound": false, "labelFlush": false}}
     },
     "layer": [
       {"data": {"name": "pwm"}, "mark": {"type": "rule", "color": "#b5b5b5", "strokeDash": [1.5, 2], "strokeWidth": 0.8},
        "encoding": {"x": {"field": "site", "type": "quantitative", "scale": {"domain": [-0.83, 16.83], "nice": false, "zero": false}, "axis": null}, "y2": {"datum": -6.6}}},
       {"data": {"values": [{"z": 0}]}, "mark": {"type": "rule", "color": "#e8e8e8", "strokeWidth": 2},
        "encoding": {"y": {"field": "z", "type": "quantitative", "title": "PWM score"}}},
       {"data": {"name": "pwm"}, "mark": {"type": "line", "color": "#3a3a3a", "strokeWidth": 0.8},
        "encoding": {"x": {"field": "site", "type": "quantitative"}}},
       {"data": {"name": "pwm"}, "mark": {"type": "point", "shape": "diamond", "filled": true, "size": 22, "stroke": "#2b2b2b", "strokeWidth": 0.5, "opacity": 1},
        "encoding": {"x": {"field": "site", "type": "quantitative"}, "color": {"condition": {"test": "datum.hit", "value": "#b3195f"}, "value": "#4a7fc6"}}}
     ]},
    {"width": 192, "height": 18, "data": {"name": "residues"},
     "mark": {"type": "text", "fontWeight": "bold", "fontSize": 11, "baseline": "middle"},
     "encoding": {
       "x": {"field": "center", "type": "quantitative", "scale": {"domain": [-0.83, 16.83], "nice": false, "zero": false}, "axis": null},
       "text": {"field": "aa"},
       "color": {"condition": {"test": "datum.red", "value": "#c0262d"}, "value": "#111111"}}}
   ]}
]}
]}
]}
]
}
